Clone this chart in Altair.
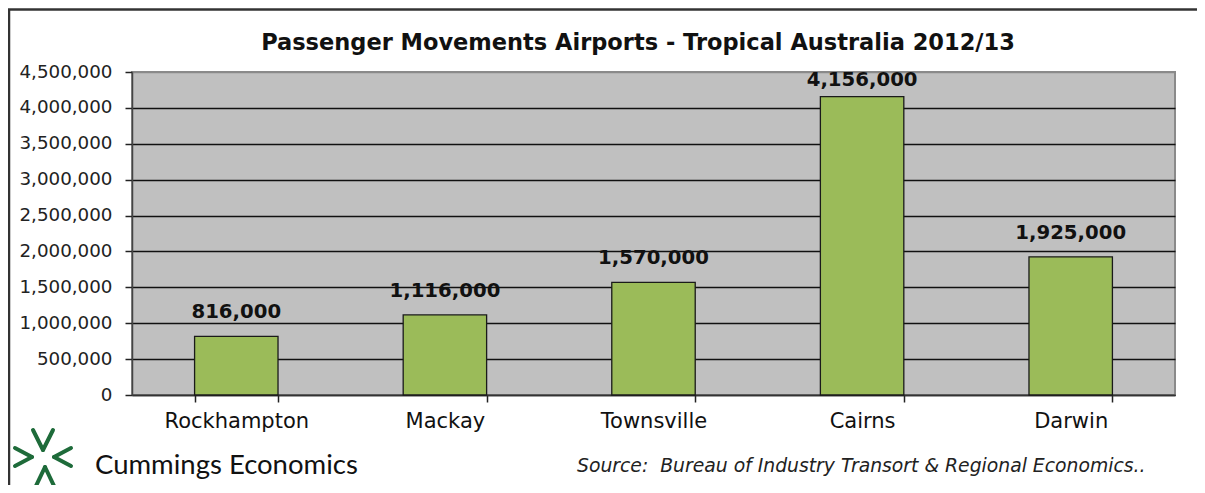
import altair as alt
import pandas as pd

# ---- data ----
cities = ["Rockhampton", "Mackay", "Townsville", "Cairns", "Darwin"]
passengers = [816000, 1116000, 1570000, 4156000, 1925000]
y_ticks = [0, 500000, 1000000, 1500000, 2000000, 2500000, 3000000, 3500000, 4000000, 4500000]

title_text = "Passenger Movements Airports - Tropical Australia 2012/13"
source_text = "Source:\u00a0\u00a0Bureau of Industry Transort & Regional Economics.."
brand_text = "Cummings Economics"

df = pd.DataFrame({"city": cities, "passengers": passengers})
one = alt.Data(values=[{"k": 1}])

W, H = 1043, 323
PX0, PY0 = 132, 72  # page position of plot origin


def vx(p):
    return p - PX0


def vy(p):
    return p - PY0


x_axis = alt.Axis(
    title=None,
    labelAngle=0,
    labelFont="DejaVu Sans",
    labelFontSize=21,
    labelColor="#111111",
    tickBand="extent",
    tickSize=7,
    tickColor="#222222",
    tickWidth=1.5,
    domainColor="#333333",
    domainWidth=1.5,
    labelPadding=8,
    grid=False,
)
x_scale = alt.Scale(paddingInner=0.6, paddingOuter=0.3)

y_axis = alt.Axis(
    title=None,
    values=y_ticks,
    labelExpr="format(datum.value, ',')",
    labelFont="DejaVu Sans",
    labelFontSize=18.3,
    labelColor="#222222",
    tickSize=7,
    tickColor="#222222",
    tickWidth=1.5,
    labelPadding=13,
    domainColor="#444444",
    domainWidth=1.5,
    gridColor=alt.condition("datum.value >= 4500000", alt.value("#8a8a8a"), alt.value("#111111")),
    gridWidth=1.3,
)
y_scale = alt.Scale(domain=[0, 4500000], nice=False)

bars = alt.Chart(df).mark_bar(
    color="#9BBB59", stroke="#1a1a1a", strokeWidth=1.3
).encode(
    x=alt.X("city:N", sort=cities, scale=x_scale, axis=x_axis),
    y=alt.Y("passengers:Q", scale=y_scale, axis=y_axis),
)

labels = (
    alt.Chart(df)
    .transform_calculate(label_y="min(datum.passengers + 251000, 4305000)")
    .mark_text(font="DejaVu Sans", fontWeight="bold", fontSize=19.7, baseline="alphabetic", color="#111111")
    .encode(
        x=alt.X("city:N", sort=cities, scale=x_scale, axis=x_axis),
        y=alt.Y("label_y:Q", scale=y_scale, axis=y_axis),
        text=alt.Text("passengers:Q", format=","),
    )
)

title = alt.Chart(one).mark_text(
    text=title_text, font="DejaVu Sans", fontWeight="bold", fontSize=22.5,
    align="center", baseline="alphabetic", color="#111111"
).encode(x=alt.value(vx(638)), y=alt.value(vy(50)))

source = alt.Chart(one).mark_text(
    text=source_text, font="DejaVu Sans", fontStyle="italic", fontSize=18.8,
    align="left", baseline="alphabetic", color="#222222"
).encode(x=alt.value(vx(577)), y=alt.value(vy(472)))

brand = alt.Chart(one).mark_text(
    text=brand_text, font="Lato", fontSize=27.5,
    align="left", baseline="alphabetic", color="#111111"
).encode(x=alt.value(vx(95)), y=alt.value(vy(474)))

logo_green = "#1E6B3A"
segments = [
    ((33, 430), (43, 450)), ((53, 430), (43, 450)),   # V
    ((15, 448), (32, 457)), ((15, 466), (32, 457)),   # >
    ((71, 448), (54, 457)), ((71, 466), (54, 457)),   # <
    ((35, 488), (45, 467)), ((55, 488), (45, 467)),   # Λ
]
logo_layers = [
    alt.Chart(one).mark_rule(color=logo_green, strokeWidth=4, strokeCap="round").encode(
        x=alt.value(vx(a[0])), y=alt.value(vy(a[1])), x2=alt.value(vx(b[0])), y2=alt.value(vy(b[1]))
    )
    for a, b in segments
]

frame_top = alt.Chart(one).mark_rule(color="#333333", strokeWidth=2.5).encode(
    x=alt.value(vx(8)), x2=alt.value(vx(1197)), y=alt.value(vy(9.5))
)
frame_left = alt.Chart(one).mark_rule(color="#333333", strokeWidth=2.5).encode(
    x=alt.value(vx(9)), y=alt.value(vy(9)), y2=alt.value(vy(493))
)

chart = alt.layer(
    bars, labels, title, source, brand, frame_top, frame_left, *logo_layers
).properties(
    width=W,
    height=H,
    padding={"left": 124, "top": 64, "right": 22, "bottom": 90},
    autosize=alt.AutoSizeParams(type="none"),
    background="white",
).configure_view(
    fill="#C0C0C0", stroke="#8a8a8a", strokeWidth=2
)

chart.save("out.html", embed_options={"renderer": "svg", "actions": False})
